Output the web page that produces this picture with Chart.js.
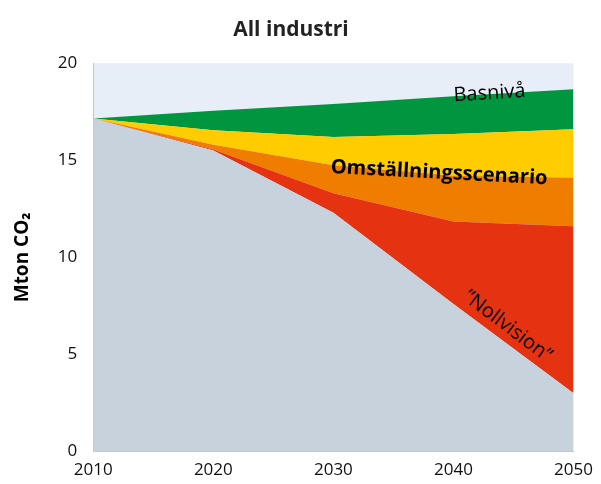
<!DOCTYPE html>
<html>
<head>
<meta charset="utf-8">
<script src="https://cdn.jsdelivr.net/npm/chart.js@4"></script>
<style>
  body { margin: 0; background: #fff; }
  #wrap { width: 601px; height: 484px; }
</style>
</head>
<body>
<div id="wrap"><canvas id="c" width="601" height="484"></canvas></div>
<script>
// years on the x axis
const years = ["2010", "2020", "2030", "2040", "2050"];

// level of each band's upper edge (Mton CO2), bottom to top
const nollvision = [17.15, 15.5, 12.3, 7.6, 3.0];
const nollTop = [17.15, 15.55, 13.3, 11.85, 11.6];
const omstallning = [17.15, 15.8, 14.75, 14.2, 14.1];
const omstTop = [17.15, 16.55, 16.2, 16.35, 16.6];
const basniva = [17.15, 17.55, 17.9, 18.3, 18.66];

const yTicks = [0, 5, 10, 15, 20];

const bgPlugin = {
  id: "bg",
  beforeDraw(chart) {
    const { ctx, chartArea: a } = chart;
    ctx.save();
    ctx.fillStyle = "#e8eef8";
    ctx.fillRect(a.left, a.top, a.right - a.left, a.bottom - a.top);
    ctx.restore();
  }
};

// scenario names written on the areas
const labelPlugin = {
  id: "labels",
  afterDatasetsDraw(chart) {
    const { ctx } = chart;
    const x = chart.scales.x, y = chart.scales.y;
    const put = (txt, px, py, ang, font) => {
      ctx.save();
      ctx.translate(px, py);
      ctx.rotate(ang * Math.PI / 180);
      ctx.font = font;
      ctx.fillStyle = "#000";
      ctx.textAlign = "center";
      ctx.textBaseline = "middle";
      ctx.fillText(txt, 0, 0);
      ctx.restore();
    };
    put("Basnivå", x.getPixelForValue(3.3), y.getPixelForValue(18.45), -3.5, "20px 'Open Sans'");
    put("Omställningsscenario", x.getPixelForValue(2.88), y.getPixelForValue(14.35), 3, "bold 20px 'Open Sans'");
    put("\u201DNollvision\u201D", x.getPixelForValue(3.45), y.getPixelForValue(6.45), 37, "20px 'Open Sans'");
  }
};

const band = (label, data, color, fill) => ({
  label, data, fill,
  backgroundColor: color,
  borderColor: color,
  borderWidth: 0,
  pointRadius: 0,
  tension: 0
});

new Chart(document.getElementById("c"), {
  type: "line",
  data: {
    labels: years,
    datasets: [
      band("Nollvision", nollvision, "#c8d2dc", "origin"),
      band("Nollvision tak", nollTop, "#e53312", "-1"),
      band("Omställningsscenario", omstallning, "#ef7d00", "-1"),
      band("Omställning tak", omstTop, "#ffcc00", "-1"),
      band("Basnivå", basniva, "#009640", "-1")
    ]
  },
  options: {
    responsive: false,
    animation: false,
    layout: { padding: { left: 7, right: 26, top: 0, bottom: -4 } },
    plugins: {
      legend: { display: false },
      tooltip: { enabled: false },
      title: {
        display: true,
        text: "All industri",
        color: "#222",
        font: { family: "'Open Sans'", size: 21, weight: "bold" },
        padding: { top: 17, bottom: 21 }
      }
    },
    scales: {
      x: {
        offset: false,
        grid: { display: false, drawTicks: false },
        border: { color: "#f0b898" },
        ticks: { color: "#111", font: { family: "'Open Sans'", size: 17 }, padding: 8, maxRotation: 0 }
      },
      y: {
        min: 0, max: 20,
        afterBuildTicks(axis) { axis.ticks = yTicks.map(v => ({ value: v })); },
        grid: { display: false, drawTicks: false },
        border: { color: "#f0b898" },
        ticks: { color: "#111", font: { family: "'Open Sans'", size: 17 }, padding: 16 },
        title: {
          display: true,
          text: "Mton CO\u2082",
          color: "#000",
          font: { family: "'Open Sans'", size: 19, weight: "bold" },
          padding: { bottom: 8 }
        }
      }
    }
  },
  plugins: [bgPlugin, labelPlugin]
});
</script>
</body>
</html>
